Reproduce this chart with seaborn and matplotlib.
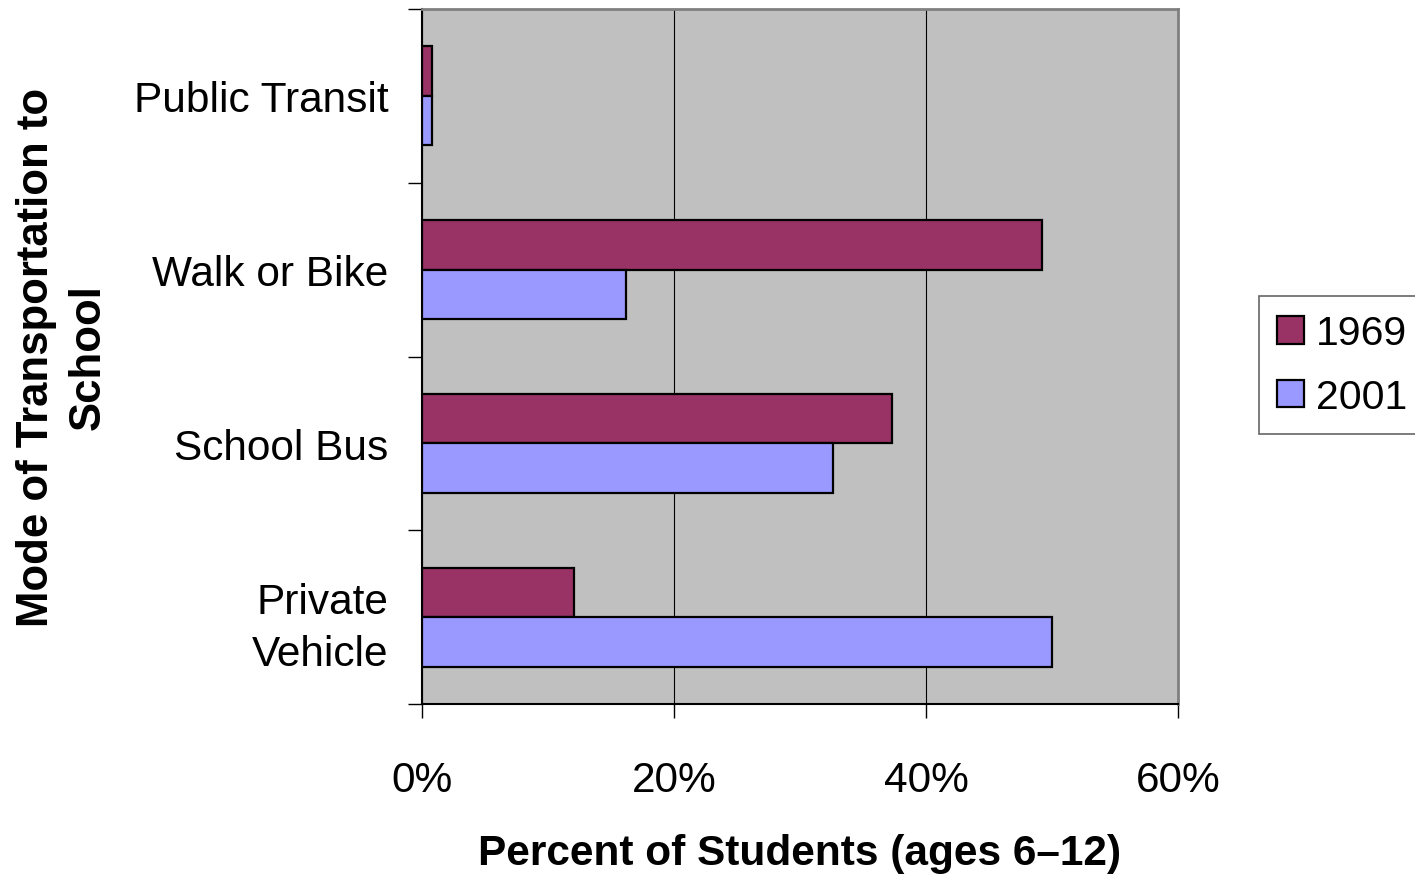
import pandas as pd
import seaborn as sns
import matplotlib
matplotlib.use("Agg")
import matplotlib.pyplot as plt
from matplotlib.ticker import FuncFormatter, FixedLocator

modes = ["Public Transit", "Walk or Bike", "School Bus", "Private\nVehicle"]
years = ["1969", "2001"]
pct_1969 = [0.8, 49.2, 37.3, 12.1]
pct_2001 = [0.8, 16.2, 32.6, 50.0]
x_ticks = [0, 20, 40, 60]

df = pd.DataFrame({
    "Mode": modes * 2,
    "Year": ["1969"] * len(modes) + ["2001"] * len(modes),
    "Percent": pct_1969 + pct_2001,
})

plt.rcParams["font.family"] = ["Liberation Sans", "DejaVu Sans"]

fig = plt.figure(figsize=(14.15, 8.79), dpi=100)
ax = fig.add_axes([422 / 1415, 1 - 705 / 879, (1178 - 422) / 1415, (705 - 10) / 879])
ax.set_facecolor("#C0C0C0")

sns.barplot(
    data=df, x="Percent", y="Mode", hue="Year", order=modes, hue_order=years,
    palette=["#993366", "#9999FF"], orient="h", width=0.57, gap=0,
    edgecolor="black", linewidth=1.6, saturation=1, ax=ax, zorder=3,
)

ax.set_xlim(0, 60)
ax.set_ylim(3.5, -0.5)
ax.set_xticks(x_ticks)
ax.xaxis.set_major_formatter(FuncFormatter(lambda v, p: f"{v:.0f}%"))
ax.tick_params(axis="x", length=10, width=1, color="black", labelsize=30.5, pad=30)
ax.tick_params(axis="y", which="major", length=0, labelsize=30.5, pad=24)
ax.yaxis.set_minor_locator(FixedLocator([-0.5, 0.5, 1.5, 2.5, 3.5]))
ax.tick_params(axis="y", which="minor", length=10, width=1, color="black")
for lab in ax.get_yticklabels():
    lab.set_horizontalalignment("right")
    lab.set_multialignment("right")
    lab.set_linespacing(1.4)

ax.grid(axis="x", color="black", linewidth=0.8, zorder=1)
ax.grid(axis="y", visible=False)
ax.set_axisbelow(True)

for side in ["top", "right"]:
    ax.spines[side].set_color("#808080")
    ax.spines[side].set_linewidth(2)
for side in ["left", "bottom"]:
    ax.spines[side].set_color("black")
    ax.spines[side].set_linewidth(1.5)

ax.set_xlabel("Percent of Students (ages 6\u201312)", fontsize=30.5, fontweight="bold", labelpad=24)
ax.set_ylabel("Mode of Transportation to\nSchool", fontsize=31.5, fontweight="bold",
              labelpad=18, linespacing=1.35)

handles, labels = ax.get_legend_handles_labels()
ax.get_legend().remove()
leg = fig.legend(
    handles, labels, loc="upper left", bbox_to_anchor=(1259 / 1415, 1 - 297 / 879),
    borderaxespad=0, fontsize=29.5, frameon=True, fancybox=False,
    handlelength=0.65, handleheight=0.65, handletextpad=0.3,
    labelspacing=0.62, borderpad=0.45,
)
leg.get_frame().set_edgecolor("#404040")
leg.get_frame().set_linewidth(1.2)

fig.savefig("out.png", dpi=100)
